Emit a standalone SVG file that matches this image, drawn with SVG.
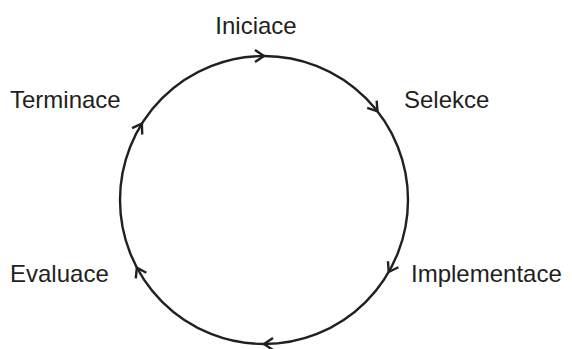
<svg xmlns="http://www.w3.org/2000/svg" width="572" height="349" viewBox="0 0 572 349">
<style>
.lbl{font-family:"Liberation Sans",Arial,sans-serif;font-size:24px;fill:#231f20}
.ring{fill:none;stroke:#231f20;stroke-width:2.4}
.chev{fill:none;stroke:#231f20;stroke-width:2.4;stroke-linejoin:miter}
</style>
<defs>
<path id="chev" class="chev" d="M -6,-9 L 0,0 L 6,-9"/>
</defs>
<rect width="572" height="349" fill="#ffffff"/>
<g id="connectors">
<circle class="ring" cx="264" cy="200" r="144"/>
<g transform="translate(264,200)">
<use href="#chev" transform="rotate(-90) translate(144,0)"/>
<use href="#chev" transform="rotate(-38) translate(144,0)"/>
<use href="#chev" transform="rotate(30) translate(144,0)"/>
<use href="#chev" transform="rotate(90) translate(144,0)"/>
<use href="#chev" transform="rotate(152) translate(144,0)"/>
<use href="#chev" transform="rotate(-148) translate(144,0)"/>
</g>
</g>
<g id="iniciace"><text class="lbl" x="256" y="34" text-anchor="middle">Iniciace</text></g>
<g id="selekce"><text class="lbl" x="404" y="108">Selekce</text></g>
<g id="implementace"><text class="lbl" x="411" y="282">Implementace</text></g>
<g id="evaluace"><text class="lbl" x="10" y="282">Evaluace</text></g>
<g id="terminace"><text class="lbl" x="10" y="108">Terminace</text></g>
</svg>
